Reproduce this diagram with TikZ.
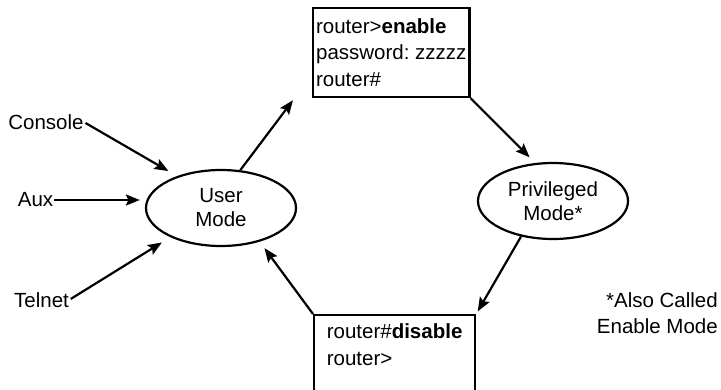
\documentclass[tikz,border=0pt]{standalone}
\usepackage{fontspec}
\setmainfont{Liberation Sans}
\usetikzlibrary{arrows.meta,shapes.geometric}
\frenchspacing
\tikzset{
  mode/.style={draw,ellipse,line width=2.2pt,minimum width=150pt,minimum height=76pt,inner sep=0pt,align=center,font=\fontsize{20.5}{24}\selectfont},
  cmdbox/.style={draw,rectangle,line width=2.2pt,anchor=north west,align=left,font=\fontsize{20.5}{26.5}\selectfont},
  port/.style={inner sep=0pt,font=\fontsize{20.5}{26}\selectfont},
  arr/.style={line width=2.2pt,-{Stealth[length=14pt,width=11pt,inset=2.5pt]}}
}
\begin{document}
\begin{tikzpicture}[x=1pt,y=-1pt]
\useasboundingbox (0,0) rectangle (721,389);
% Modes
\node[mode] (user) at (221,208) {User\\Mode};
\node[mode] (priv) at (553,201) {Privileged\\Mode*};
% Command boxes
\node[cmdbox,minimum width=156pt,minimum height=89pt,inner xsep=3pt] (enbox) at (312,7) {router>\textbf{enable}\\password: zzzzz\\router\#};
\node[cmdbox,minimum width=161pt,inner xsep=9pt,inner ysep=9pt,text depth=60pt] (disbox) at (313,314) {router\#\textbf{disable}\\router>};
% Access lines
\node[port] (console) at (46,122) {Console};
\node[port] (aux) at (35.5,200) {Aux};
\node[port] (telnet) at (41.5,300) {Telnet};
\node[port,align=right,anchor=east] (note) at (718,313) {*Also Called\\Enable Mode};
% Arrows
\draw[arr,shorten <=2pt,shorten >=10pt] (console.east) -- (user.144);
\draw[arr,shorten <=1pt,shorten >=5pt] (aux.east) -- (aux.east -| user.west);
\draw[arr,shorten <=2pt,shorten >=10pt] (telnet.east) -- (user.210);
\draw[arr] (user.63) -- ([xshift=-19pt,yshift=-2pt]enbox.south west);
\draw[arr,shorten >=8pt] (enbox.south east) -- (priv.115);
\draw[arr,shorten >=3pt] (priv.228) -- (disbox.north east);
\draw[arr,shorten >=8pt] (disbox.north west) -- (user.-41);
\end{tikzpicture}
\end{document}
